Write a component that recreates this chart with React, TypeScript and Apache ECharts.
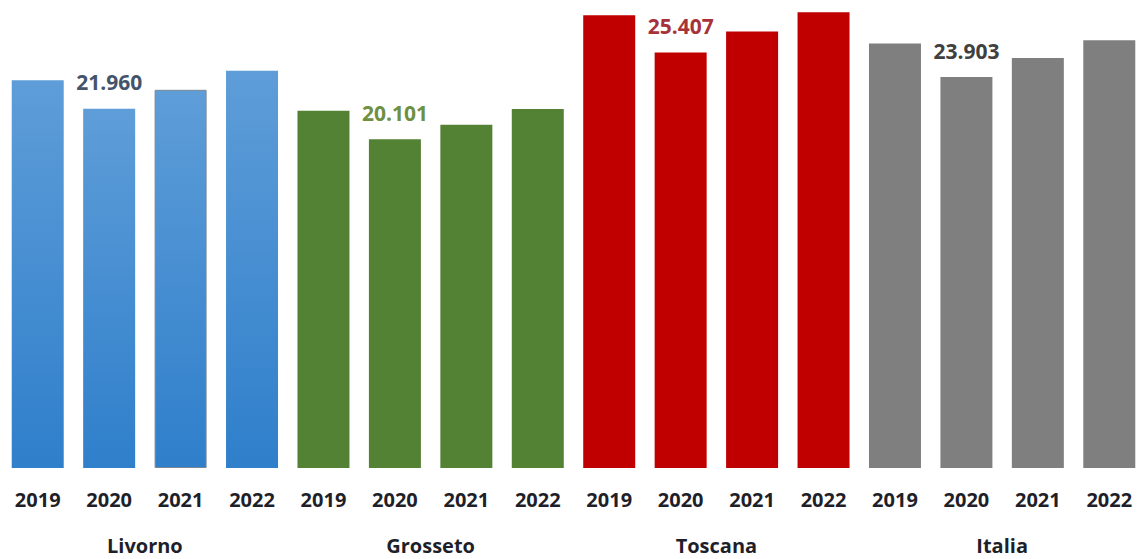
import React, { useEffect, useRef } from "react";
import * as echarts from "echarts";

const years = ["2019", "2020", "2021", "2022"];
const groups = ["Livorno", "Grosseto", "Toscana", "Italia"];
const livorno = [23710, 21960, 23120, 24280];
const grosseto = [21840, 20101, 20980, 21940];
const toscana = [27680, 25407, 26690, 27870];
const italia = [25950, 23903, 25070, 26150];
const labelledYear = "2020";

const fmt = (v: number) => {
  const s = String(Math.round(v));
  return s.slice(0, s.length - 3) + "." + s.slice(s.length - 3);
};

export default function App() {
  const ref = useRef<HTMLDivElement>(null);
  useEffect(() => {
    if (!ref.current) return;
    const chart = echarts.init(ref.current, null, { renderer: "svg" });
    const blueGrad = new echarts.graphic.LinearGradient(0, 0, 0, 1, [
      { offset: 0, color: "#5E9DD8" },
      { offset: 1, color: "#2F7FCB" },
    ]);
    const styles = [
      { color: blueGrad, label: "#44546A" },
      { color: "#548235", label: "#6E9040" },
      { color: "#C00000", label: "#A8323A" },
      { color: "#7F7F7F", label: "#404040" },
    ];
    const seriesVals = [livorno, grosseto, toscana, italia];
    const cats: string[] = [];
    const data: any[] = [];
    seriesVals.forEach((vals, g) => {
      vals.forEach((v, i) => {
        cats.push(years[i]);
        const item: any = {
          value: v,
          itemStyle: { color: styles[g].color },
        };
        if (g === 0 && i === 2) {
          item.itemStyle.borderColor = "#7A8896";
          item.itemStyle.borderWidth = 1;
        }
        if (years[i] === labelledYear) {
          item.label = {
            show: true,
            position: "top",
            distance: 16,
            color: styles[g].label,
            fontSize: 21,
            fontWeight: "bold",
            fontFamily: "Open Sans",
            formatter: (p: any) => fmt(p.value),
          };
        }
        data.push(item);
      });
    });
    chart.setOption({
      animation: false,
      backgroundColor: "#ffffff",
      grid: { left: 2, top: 10, right: 1, height: 458 },
      xAxis: [
        {
          type: "category",
          data: cats,
          axisLine: { show: false },
          axisTick: { show: false },
          axisLabel: {
            interval: 0,
            margin: 21,
            fontSize: 20,
            fontWeight: "bold",
            fontFamily: "Open Sans",
            color: "#1F1F2A",
          },
        },
        {
          type: "category",
          position: "bottom",
          data: groups,
          axisLine: { show: false },
          axisTick: { show: false },
          axisLabel: {
            interval: 0,
            margin: 67,
            fontSize: 20,
            fontWeight: "bold",
            fontFamily: "Open Sans",
            color: "#1F1F2A",
          },
        },
      ],
      yAxis: {
        type: "value",
        min: 0,
        max: 28000,
        show: false,
        splitLine: { show: false },
      },
      series: [
        {
          type: "bar",
          xAxisIndex: 0,
          barWidth: 52,
          data,
        },
      ],
    });
    return () => chart.dispose();
  }, []);
  return (
    <div
      style={{
        position: "absolute",
        left: 0,
        top: 0,
        width: 1137,
        height: 559,
        overflow: "hidden",
        background: "#ffffff",
      }}
    >
      <div ref={ref} style={{ width: 1146, height: 559 }} />
    </div>
  );
}
